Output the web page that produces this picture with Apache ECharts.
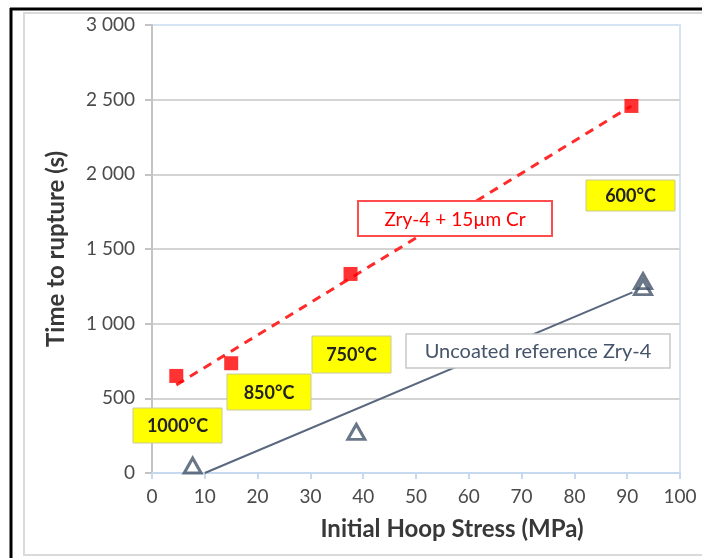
<!DOCTYPE html>
<html>
<head>
<meta charset="utf-8">
<script src="https://cdn.jsdelivr.net/npm/echarts@6/dist/echarts.min.js"></script>
<style>
  html, body { margin: 0; padding: 0; background: #fff; }
  #chart { width: 702px; height: 558px; }
</style>
</head>
<body>
<div id="chart"></div>
<script>
// Coated cladding (Zry-4 + 15 µm Cr): hoop stress (MPa) vs time to rupture (s)
const coatedStress = [4.6, 15.0, 37.6, 90.8];
const coatedTime = [650, 735, 1333, 2458];

// Uncoated reference Zry-4
const uncoatedStress = [7.7, 38.7, 93.0, 93.0];
const uncoatedTime = [50, 275, 1285, 1245];

// Trend lines (end points)
const coatedTrendStress = [4.6, 90.8];
const coatedTrendTime = [590, 2458];
const uncoatedTrendStress = [10, 91];
const uncoatedTrendTime = [0, 1210];

// Test temperatures
const tempLabels = ['1000°C', '850°C', '750°C', '600°C'];
const seriesLabels = ['Zry-4 + 15µm Cr', 'Uncoated reference Zry-4'];

// Axis ticks
const xTicks = [0, 10, 20, 30, 40, 50, 60, 70, 80, 90, 100];
const yTicks = [0, 500, 1000, 1500, 2000, 2500, 3000];

const zip = (a, b) => a.map((v, i) => [v, b[i]]);
const FONT = 'Lato';

function fmtThousands(v) {
  const s = String(v);
  return s.length > 3 ? s.slice(0, s.length - 3) + ' ' + s.slice(-3) : s;
}

function box(x, y, w, h, text, opts) {
  return {
    type: 'group', z: 100,
    children: [
      { type: 'rect', shape: { x: x, y: y, width: w, height: h },
        style: { fill: opts.fill, stroke: opts.stroke, lineWidth: opts.lw || 1.5 }, z: 100 },
      { type: 'text', x: x + w / 2, y: y + h / 2 + 1, z: 101,
        style: { text: text, fill: opts.color, font: opts.font,
                 align: 'center', verticalAlign: 'middle' } }
    ]
  };
}

const chart = echarts.init(document.getElementById('chart'), null, { renderer: 'canvas' });

const yellow = { fill: '#ffff00', stroke: '#c8c8a0', color: '#222', font: 'bold 18px ' + FONT, lw: 1 };

chart.setOption({
  animation: false,
  backgroundColor: '#ffffff',
  grid: { left: 152, right: 22, top: 25, bottom: 85, show: true,
          borderColor: '#d5e3f3', borderWidth: 2, backgroundColor: 'transparent' },
  xAxis: {
    type: 'value', min: xTicks[0], max: xTicks[xTicks.length - 1], interval: 10,
    name: 'Initial Hoop Stress (MPa)', nameLocation: 'middle', nameGap: 44,
    nameTextStyle: { fontFamily: FONT, fontSize: 24, fontWeight: 'bold', color: '#383838',
                     padding: [0, 0, 0, 72] },
    axisLine: { show: true, lineStyle: { color: '#c6d9ef', width: 2 } },
    axisTick: { show: true, length: 6, lineStyle: { color: '#c6d9ef', width: 2 } },
    axisLabel: { fontFamily: FONT, fontSize: 19, color: '#4a4a4a', margin: 14 },
    splitLine: { show: false }
  },
  yAxis: {
    type: 'value', min: yTicks[0], max: yTicks[yTicks.length - 1], interval: 500,
    name: 'Time to rupture (s)', nameLocation: 'middle', nameGap: 84,
    nameTextStyle: { fontFamily: FONT, fontSize: 24, fontWeight: 'bold', color: '#383838',
                     padding: [0, 0, 0, 0] },
    axisLine: { show: true, lineStyle: { color: '#c4c4c4', width: 2 } },
    axisTick: { show: true, length: 7, lineStyle: { color: '#c4c4c4', width: 2 } },
    axisLabel: { fontFamily: FONT, fontSize: 19, color: '#4a4a4a', margin: 17,
                 formatter: fmtThousands },
    splitLine: { show: true, showMinLine: false, showMaxLine: false,
                 lineStyle: { color: '#d4d4d4', width: 2 } }
  },
  series: [
    {
      name: seriesLabels[0] + ' trend', type: 'line', z: 3,
      data: zip(coatedTrendStress, coatedTrendTime), symbol: 'none',
      lineStyle: { color: '#ff2a2a', width: 3, type: [9, 7] }
    },
    {
      name: seriesLabels[1] + ' trend', type: 'line', z: 3,
      data: zip(uncoatedTrendStress, uncoatedTrendTime), symbol: 'none',
      lineStyle: { color: '#59687e', width: 2 }
    },
    {
      name: seriesLabels[0], type: 'scatter', z: 4,
      data: zip(coatedStress, coatedTime), symbol: 'rect', symbolSize: 14,
      itemStyle: { color: '#ff0000' }
    },
    {
      name: seriesLabels[1], type: 'scatter', z: 4,
      data: zip(uncoatedStress, uncoatedTime), symbol: 'triangle', symbolSize: [17, 15],
      itemStyle: { color: 'rgba(255,255,255,0)', borderColor: '#44546a', borderWidth: 3 }
    }
  ],
  graphic: [
    // page frame
    { type: 'rect', z: 0, shape: { x: 24, y: 13, width: 700, height: 542 },
      style: { fill: 'none', stroke: '#dadada', lineWidth: 2 } },
    { type: 'line', z: 0, shape: { x1: 10, y1: 9, x2: 702, y2: 9 },
      style: { stroke: '#000', lineWidth: 3 } },
    { type: 'line', z: 0, shape: { x1: 11, y1: 8, x2: 11, y2: 558 },
      style: { stroke: '#000', lineWidth: 3 } },
    // series callouts
    box(358, 201, 194, 35, seriesLabels[0],
        { fill: '#fff', stroke: '#ff4d4d', color: '#ff0000', font: '19px ' + FONT, lw: 2 }),
    box(406, 334, 264, 34, seriesLabels[1],
        { fill: '#fff', stroke: '#c8c8c8', color: '#44546a', font: '20px ' + FONT, lw: 1.5 }),
    // temperatures
    box(133, 408, 89, 35, tempLabels[0], yellow),
    box(227, 374, 84, 36, tempLabels[1], yellow),
    box(312, 336, 79, 37, tempLabels[2], yellow),
    box(586, 180, 89, 31, tempLabels[3], yellow)
  ]
});
</script>
</body>
</html>
